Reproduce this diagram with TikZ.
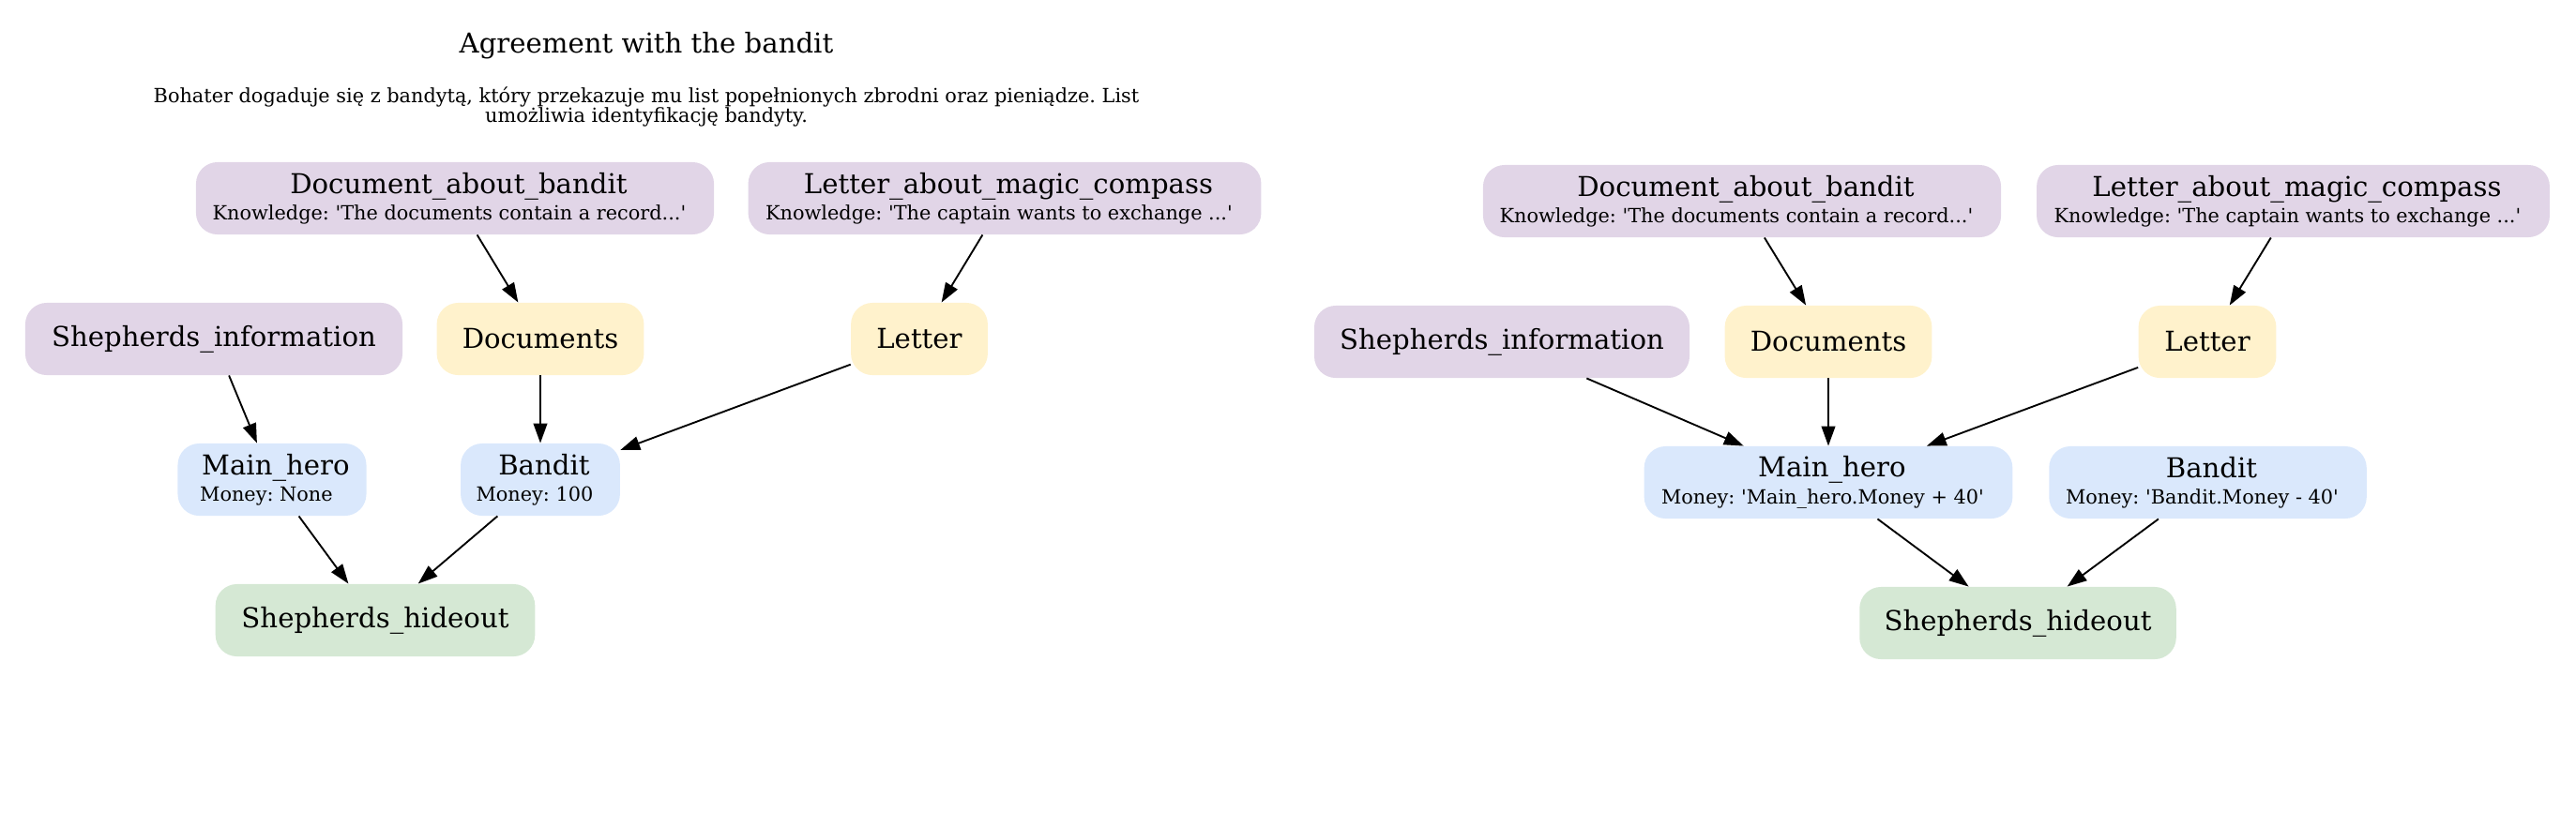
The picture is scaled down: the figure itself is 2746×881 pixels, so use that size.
\documentclass[tikz,border=0pt]{standalone}
\usepackage{fontspec}
\setmainfont{DejaVu Serif}[Ligatures=TeXOff]
\usepackage{xcolor}
\usetikzlibrary{arrows.meta}
\definecolor{knowfill}{HTML}{E1D5E7}
\definecolor{itemfill}{HTML}{FFF2CC}
\definecolor{herofill}{HTML}{DAE8FC}
\definecolor{placefill}{HTML}{D5E8D4}
\newcommand{\bigtxt}{\fontsize{14}{16}\selectfont}
\newcommand{\smalltxt}{\fontsize{10}{10}\selectfont}
\newcommand{\headline}[1]{\kern3.8pt#1}
\newcommand{\infoline}[1]{{\fontsize{10}{12}\selectfont#1\kern5.8pt}}

\begin{document}
\frenchspacing
\begin{tikzpicture}[x=0.48pt, y=-0.48pt,
			box/.style={rounded corners=11pt, inner sep=0pt, minimum height=37pt, align=center, font=\fontsize{14}{13.6}\selectfont},
			know/.style={box, fill=knowfill},
			item/.style={box, fill=itemfill},
			hero/.style={box, fill=herofill},
			place/.style={box, fill=placefill},
			edge/.style={-{Triangle[length=10pt, width=7pt]}, line width=0.9pt}]
			\useasboundingbox (0,0) rectangle (2746,881);

			\node (title) at (689,49) {\bigtxt Agreement with the bandit};
			\node[align=center, font=\smalltxt] (desc) at (689,114) {Bohater dogaduje się z bandytą, który przekazuje mu list popełnionych zbrodni oraz pieniądze. List\\umożliwia identyfikację bandyty.};

			\node[know, minimum width=265pt] (docL) at (485,211.5) {\headline{Document\_about\_bandit}\\\infoline{Knowledge: 'The documents contain a record...'}};
			\node[know, minimum width=262.5pt] (letaL) at (1071,211.5) {\headline{Letter\_about\_magic\_compass}\\\infoline{Knowledge: 'The captain wants to exchange ...'}};
			\node[know, minimum width=193pt] (shepL) at (228,361.5) {Shepherds\_information};
			\node[item, minimum width=106pt] (docsL) at (576,361.5) {Documents};
			\node[item, minimum width=70pt] (letL) at (980,361.5) {Letter};
			\node[hero, minimum width=96.5pt] (mainL) at (290,511.5) {\headline{Main\_hero}\\\infoline{Money: None}};
			\node[hero, minimum width=81.5pt] (banL) at (576,511.5) {\headline{Bandit}\\\infoline{Money: 100}};
			\node[place, minimum width=163.5pt] (hideL) at (400,661.5) {Shepherds\_hideout};

			\draw[edge] (docL) -- (docsL);
			\draw[edge] (letaL) -- (letL);
			\draw[edge] (shepL) -- (mainL);
			\draw[edge] (docsL) -- (banL);
			\draw[edge] (letL) -- (banL);
			\draw[edge] (mainL) -- (hideL);
			\draw[edge] (banL) -- (hideL);

			\node[know, minimum width=265pt] (docR) at (1857,214.5) {\headline{Document\_about\_bandit}\\\infoline{Knowledge: 'The documents contain a record...'}};
			\node[know, minimum width=262.5pt] (letaR) at (2444.5,214.5) {\headline{Letter\_about\_magic\_compass}\\\infoline{Knowledge: 'The captain wants to exchange ...'}};
			\node[know, minimum width=192pt] (shepR) at (1601,364.5) {Shepherds\_information};
			\node[item, minimum width=106pt] (docsR) at (1949,364.5) {Documents};
			\node[item, minimum width=70.5pt] (letR) at (2353,364.5) {Letter};
			\node[hero, minimum width=188.5pt] (mainR) at (1949,514.5) {\headline{Main\_hero}\\\infoline{Money: 'Main\_hero.Money + 40'}};
			\node[hero, minimum width=162.5pt] (banR) at (2353.5,514.5) {\headline{Bandit}\\\infoline{Money: 'Bandit.Money - 40'}};
			\node[place, minimum width=162pt] (hideR) at (2151,664.5) {Shepherds\_hideout};

			\draw[edge] (docR) -- (docsR);
			\draw[edge] (letaR) -- (letR);
			\draw[edge] (shepR) -- (mainR);
			\draw[edge] (docsR) -- (mainR);
			\draw[edge] (letR) -- (mainR);
			\draw[edge] (mainR) -- (hideR);
			\draw[edge] (banR) -- (hideR);
		\end{tikzpicture}
\end{document}
